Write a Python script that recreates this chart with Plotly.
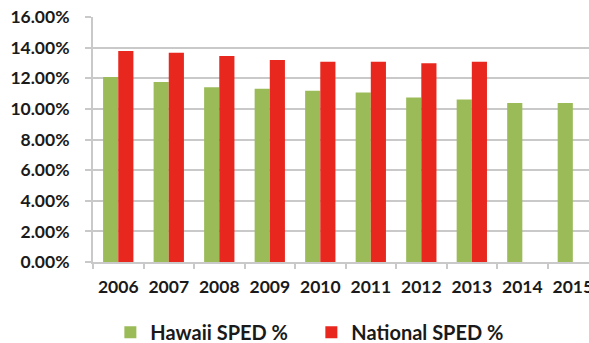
import plotly.graph_objects as go

years = ["2006", "2007", "2008", "2009", "2010", "2011", "2012", "2013", "2014", "2015"]
hawaii_sped = [12.08, 11.76, 11.42, 11.31, 11.18, 11.07, 10.75, 10.62, 10.39, 10.39]
national_sped = [13.78, 13.67, 13.45, 13.20, 13.08, 13.08, 12.98, 13.08, None, None]
y_ticks = [0, 2, 4, 6, 8, 10, 12, 14, 16]

GREEN = "#9BBB59"
RED = "#E8271E"
GRID = "#C9C9C9"
FONT = "Lato"

fig = go.Figure()
fig.add_trace(go.Bar(name="Hawaii SPED %", x=years, y=hawaii_sped,
                     marker=dict(color=GREEN, line=dict(width=0))))
fig.add_trace(go.Bar(name="National SPED %", x=years, y=national_sped,
                     marker=dict(color=RED, line=dict(width=0))))

fig.update_layout(
    width=589, height=343,
    margin=dict(l=93, r=0, t=17, b=81, autoexpand=False),
    paper_bgcolor="white", plot_bgcolor="white",
    barmode="group", bargap=0.4, bargroupgap=0,
    font=dict(family=FONT, color="#1a1a1a", size=17),
    showlegend=True,
    legend=dict(orientation="h", x=0.035, xanchor="left", y=-0.207, yanchor="top",
                font=dict(family=FONT, size=20, color="#1a1a1a", weight="bold"),
                itemwidth=30, entrywidth=156, traceorder="normal",
                bgcolor="rgba(0,0,0,0)"),
)
fig.update_xaxes(
    type="category", range=[-0.5, 9.32], automargin=False, tickangle=0,
    showgrid=False, showline=True, linecolor=GRID, linewidth=2,
    ticks="outside", tickson="boundaries", ticklen=5, tickcolor=GRID, tickwidth=2,
    tickfont=dict(family=FONT, size=17.5, color="#1a1a1a", weight="bold"),
    ticklabelstandoff=8,
)
fig.update_yaxes(
    range=[0, 16], tickvals=y_ticks, ticktext=[f"{v:.2f}%" for v in y_ticks],
    automargin=False,
    showgrid=True, gridcolor=GRID, gridwidth=2,
    showline=True, linecolor=GRID, linewidth=2, zeroline=False,
    ticks="outside", ticklen=6, tickcolor=GRID, tickwidth=2,
    tickfont=dict(family=FONT, size=17.5, color="#1a1a1a", weight="bold"),
    ticklabelstandoff=12,
)

fig.write_html("out.html")
